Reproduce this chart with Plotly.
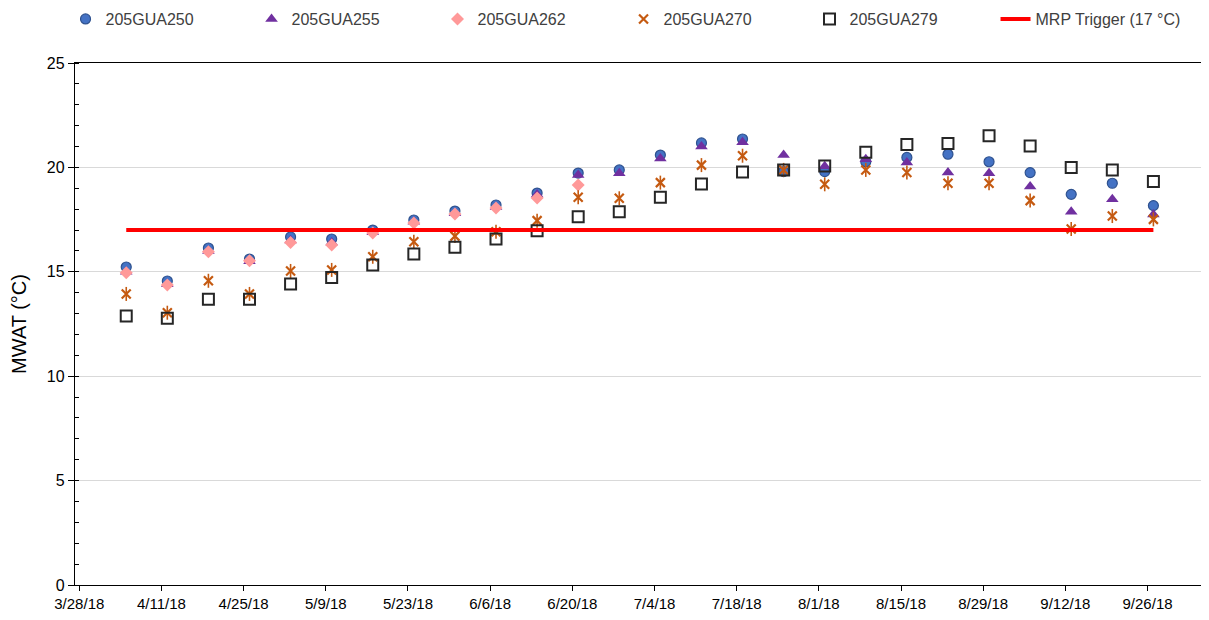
import plotly.graph_objects as go
import pandas as pd

dates = pd.date_range("2018-04-05", periods=26, freq="7D")

s250 = [15.23, 14.56, 16.14, 15.61, 16.67, 16.57, 17.0, 17.48, 17.91, 18.2, 18.77, 19.73, 19.88,
        20.59, 21.17, 21.36, 19.8, 19.8, 20.27, 20.48, 20.63, 20.27, 19.75, 18.71, 19.24, 18.17]
s255 = [15.0, 14.4, 16.0, 15.5, 16.5, 16.4, 16.9, 17.4, 17.8, 18.1, 18.7, 19.64, 19.72,
        20.43, 21.0, 21.2, 20.59, 20.05, 20.39, 20.23, 19.76, 19.72, 19.08, 17.88, 18.47, 17.75]
s262 = [14.95, 14.37, 15.96, 15.53, 16.4, 16.28, 16.86, 17.34, 17.77, 18.05, 18.53, 19.16]
s270 = [13.94, 13.04, 14.57, 13.94, 15.04, 15.09, 15.72, 16.44, 16.71, 16.92, 17.45, 18.57, 18.52,
        19.27, 20.11, 20.56, 19.88, 19.19, 19.88, 19.76, 19.24, 19.24, 18.41, 17.05, 17.67, 17.51]
s279 = [12.88, 12.77, 13.68, 13.68, 14.42, 14.73, 15.33, 15.85, 16.17, 16.57, 16.97, 17.64, 17.88,
        18.57, 19.2, 19.78, 19.88, 20.07, 20.72, 21.1, 21.15, 21.52, 21.02, 19.99, 19.88, 19.32]
trigger = 17
series_names = ["205GUA250", "205GUA255", "205GUA262", "205GUA270", "205GUA279"]
trigger_name = "MRP Trigger (17 °C)"

FONT = "Liberation Sans, Arial, sans-serif"
ORANGE = "#C55A11"

fig = go.Figure()
fig.add_trace(go.Scatter(x=dates, y=s250, mode="markers", name=series_names[0],
                         marker=dict(symbol="circle", size=10, color="#4472C4",
                                     line=dict(color="#2F528F", width=1.2))))
fig.add_trace(go.Scatter(x=dates, y=s255, mode="markers", name=series_names[1],
                         marker=dict(symbol="triangle-up", size=11, color="#7030A0",
                                     line=dict(width=0))))
fig.add_trace(go.Scatter(x=dates[:len(s262)], y=s262, mode="markers", name=series_names[2],
                         marker=dict(symbol="diamond", size=10, color="#FF9999",
                                     line=dict(width=0))))
fig.add_trace(go.Scatter(x=dates, y=s270, mode="markers", name=series_names[3],
                         legendgroup="g270",
                         marker=dict(symbol="x-thin-open", size=9, color=ORANGE,
                                     line=dict(color=ORANGE, width=2.2))))
fig.add_trace(go.Scatter(x=dates, y=s270, mode="markers", name=series_names[3],
                         legendgroup="g270", showlegend=False, hoverinfo="skip",
                         marker=dict(symbol="line-ns-open", size=10, color=ORANGE,
                                     line=dict(color=ORANGE, width=1.6))))
fig.add_trace(go.Scatter(x=dates, y=s279, mode="markers", name=series_names[4],
                         marker=dict(symbol="square-open", size=11, color="#262626",
                                     line=dict(color="#262626", width=2))))
fig.add_trace(go.Scatter(x=[dates[0], dates[-1]], y=[trigger, trigger], mode="lines",
                         name=trigger_name, line=dict(color="#FF0000", width=4)))

# page body has an 8px default margin; size the figure to fit the viewport
fig.update_layout(
    width=1201, height=612,
    margin=dict(l=67, r=4, t=55, b=35, autoexpand=False),
    paper_bgcolor="white", plot_bgcolor="white",
    font=dict(family=FONT, size=14, color="#000000"),
    showlegend=True,
    legend=dict(orientation="h", xref="container", yref="container",
                x=0.0479, y=0.982, xanchor="left", yanchor="middle",
                entrywidth=141, entrywidthmode="pixels",
                font=dict(family=FONT, size=16, color="#404040"),
                bgcolor="rgba(0,0,0,0)"),
    xaxis=dict(
        type="date",
        range=["2018-03-27 06:30", "2018-10-05 19:00"],
        tick0="2018-03-28", dtick=14 * 86400000,
        tickformat="%-m/%-d/%y",
        ticks="outside", ticklen=5, tickcolor="black",
        showgrid=False, showline=True, linecolor="black", linewidth=1.3,
        mirror=True, zeroline=False,
        tickfont=dict(family=FONT, size=15, color="black"),
    ),
    yaxis=dict(
        range=[0, 25], dtick=5,
        ticks="outside", ticklen=6, tickcolor="black",
        showgrid=True, gridcolor="#D9D9D9", gridwidth=1,
        showline=True, linecolor="black", linewidth=1.3, mirror=True,
        zeroline=False,
        minor=dict(dtick=1, ticks="inside", ticklen=4, tickcolor="black", showgrid=False),
        title=dict(text="MWAT (°C)", font=dict(family=FONT, size=20, color="black"), standoff=16),
        tickfont=dict(family=FONT, size=16, color="black"),
    ),
)

fig.write_html("out.html")
